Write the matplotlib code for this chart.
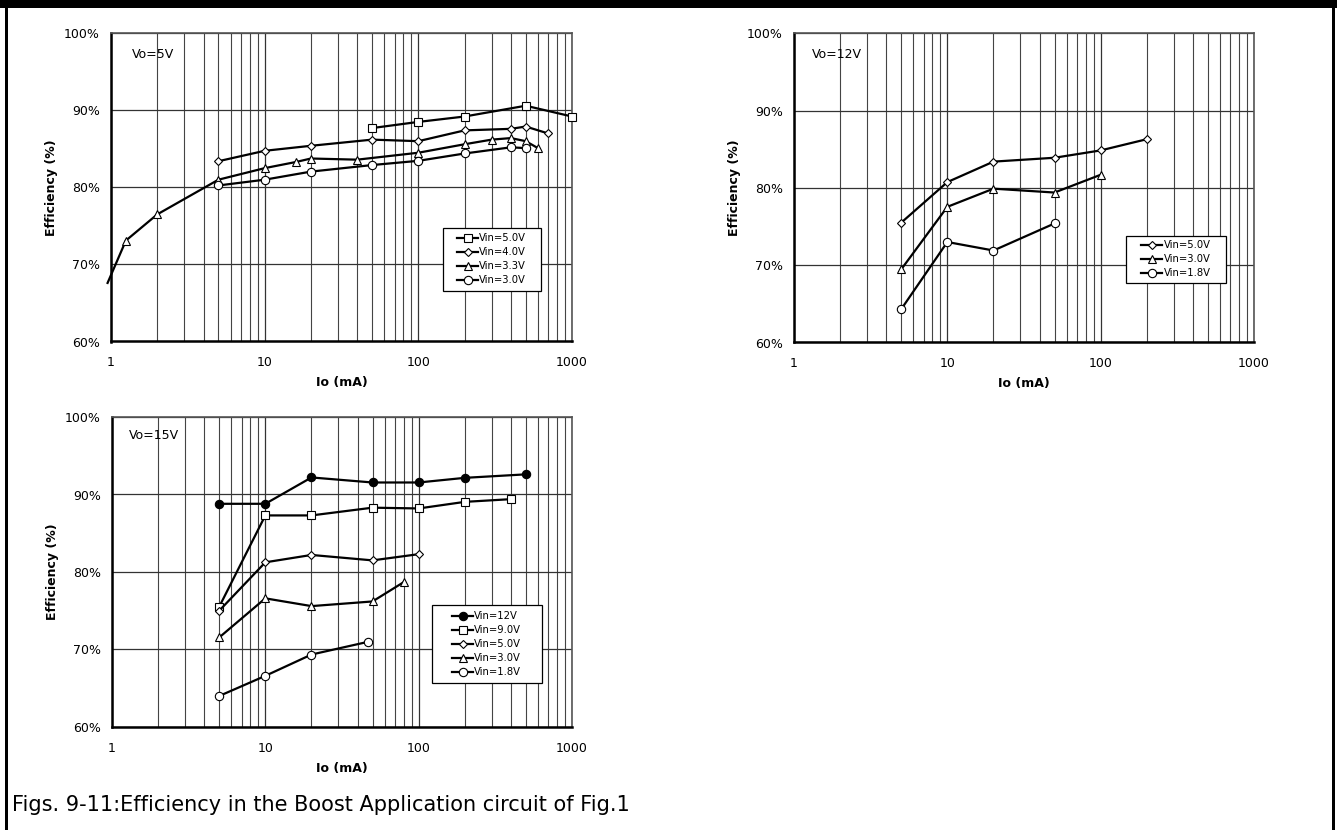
import numpy as np
import matplotlib
matplotlib.use('Agg')
import matplotlib.pyplot as plt
from matplotlib.patches import Rectangle
from matplotlib.ticker import FixedLocator, NullFormatter, PercentFormatter

plt.rcParams['font.family'] = ['DejaVu Sans']

# === 데이터 (Vo=5V) ===
vo5_x_50 = [50, 100, 200, 500, 1000]
vo5_vin50 = [87.7, 88.5, 89.2, 90.6, 89.2]
vo5_x_40 = [5, 10, 20, 50, 100, 200, 400, 500, 700]
vo5_vin40 = [83.4, 84.75, 85.4, 86.2, 86.0, 87.4, 87.6, 87.9, 87.0]
vo5_x_33 = [0.95, 1.25, 2, 5, 10, 16, 20, 40, 100, 200, 300, 400, 500, 600]
vo5_vin33 = [67.6, 73.1, 76.5, 81.0, 82.5, 83.3, 83.75, 83.6, 84.5, 85.6, 86.2, 86.4, 86.0, 85.1]
vo5_x_30 = [5, 10, 20, 50, 100, 200, 400, 500]
vo5_vin30 = [80.25, 81.0, 82.05, 82.9, 83.45, 84.4, 85.2, 85.1]

# === 데이터 (Vo=12V) ===
vo12_x_50 = [5, 10, 20, 50, 100, 200]
vo12_vin50 = [75.5, 80.75, 83.4, 83.9, 84.85, 86.3]
vo12_x_30 = [5, 10, 20, 50, 100]
vo12_vin30 = [69.45, 77.55, 79.9, 79.4, 81.7]
vo12_x_18 = [5, 10, 20, 50]
vo12_vin18 = [64.3, 73.0, 71.9, 75.4]

# === 데이터 (Vo=15V) ===
vo15_x_12 = [5, 10, 20, 50, 100, 200, 500]
vo15_vin12 = [88.8, 88.8, 92.2, 91.55, 91.55, 92.15, 92.6]
vo15_x_90 = [5, 10, 20, 50, 100, 200, 400]
vo15_vin90 = [75.5, 87.3, 87.3, 88.3, 88.2, 89.05, 89.4]
vo15_x_50 = [5, 10, 20, 50, 100]
vo15_vin50 = [75.0, 81.25, 82.2, 81.5, 82.3]
vo15_x_30 = [5, 10, 20, 50, 80]
vo15_vin30 = [71.55, 76.6, 75.6, 76.2, 78.7]
vo15_x_18 = [5, 10, 20, 47]
vo15_vin18 = [64.0, 66.6, 69.35, 71.0]

W, H = 1337, 830
fig = plt.figure(figsize=(W / 100, H / 100), dpi=100)

# 바깥 테두리
fig.add_artist(Rectangle((0, 1 - 8 / H), 1, 8 / H, transform=fig.transFigure, color='black', lw=0))
fig.add_artist(Rectangle((5 / W, 0), 3 / W, 1, transform=fig.transFigure, color='black', lw=0))
fig.add_artist(Rectangle((1332 / W, 0), 3 / W, 1, transform=fig.transFigure, color='black', lw=0))


def px_rect(left, right, top, bottom):
    return [left / W, 1 - bottom / H, (right - left) / W, (bottom - top) / H]


def setup_axes(rect, label, label_pos):
    ax = fig.add_axes(rect)
    ax.set_xscale('log')
    ax.set_xlim(1, 1000)
    ax.set_ylim(60, 100)
    ax.set_yticks([60, 70, 80, 90, 100])
    ax.yaxis.set_major_formatter(PercentFormatter(decimals=0))
    ax.set_xticks([1, 10, 100, 1000])
    ax.set_xticklabels(['1', '10', '100', '1000'])
    ax.xaxis.set_minor_locator(FixedLocator([m * 10 ** d for d in range(3) for m in range(2, 10)]))
    ax.xaxis.set_minor_formatter(NullFormatter())
    ax.tick_params(axis='both', which='both', length=0, labelsize=9)
    ax.tick_params(axis='y', pad=8)
    ax.tick_params(axis='x', pad=10.5)
    ax.grid(True, which='major', color='#333333', lw=0.9)
    ax.grid(True, which='minor', axis='x', color='#444444', lw=0.8)
    for s in ['left', 'bottom']:
        ax.spines[s].set_linewidth(1.8)
        ax.spines[s].set_color('black')
    for s in ['top', 'right']:
        ax.spines[s].set_linewidth(1.2)
        ax.spines[s].set_color('#555555')
    ax.set_xlabel('Io (mA)', fontsize=9, fontweight='bold', labelpad=5)
    ax.set_ylabel('Efficiency (%)', fontsize=9, fontweight='bold', labelpad=4)
    ax.text(label_pos[0], label_pos[1], label, transform=ax.transAxes, fontsize=9,
            va='center', ha='left')
    return ax


def draw(ax, x, y, marker, name, face='white', markevery=None):
    ax.plot(x, y, color='black', lw=1.6, marker=marker, markersize=6 if marker != 'D' else 4.5,
            markerfacecolor=face, markeredgecolor='black', markeredgewidth=0.8,
            label=name, markevery=markevery, clip_on=False, zorder=3)


def legend(ax, x0, x1, y0, y1):
    ax.add_patch(Rectangle((x0, y0), x1 - x0, y1 - y0, transform=ax.transAxes,
                           facecolor='white', edgecolor='black', lw=0.9, zorder=5))
    lg = ax.legend(loc='center', bbox_to_anchor=((x0 + x1) / 2, (y0 + y1) / 2), fontsize=7.2,
                   frameon=False, handlelength=2.1, handletextpad=0.1, borderpad=0,
                   labelspacing=0.4, borderaxespad=0)
    lg.set_zorder(6)


# --- Vo=5V ---
ax1 = setup_axes(px_rect(111, 572, 33.3, 341.5), 'Vo=5V', (0.045, 0.930))
draw(ax1, vo5_x_50, vo5_vin50, 's', 'Vin=5.0V')
draw(ax1, vo5_x_40, vo5_vin40, 'D', 'Vin=4.0V')
draw(ax1, vo5_x_33, vo5_vin33, '^', 'Vin=3.3V', markevery=list(range(1, len(vo5_x_33))))
draw(ax1, vo5_x_30, vo5_vin30, 'o', 'Vin=3.0V')
legend(ax1, 0.720, 0.932, 0.164, 0.3685)

# --- Vo=12V ---
ax2 = setup_axes(px_rect(794, 1254, 33.3, 342.5), 'Vo=12V', (0.040, 0.930))
draw(ax2, vo12_x_50, vo12_vin50, 'D', 'Vin=5.0V')
draw(ax2, vo12_x_30, vo12_vin30, '^', 'Vin=3.0V')
draw(ax2, vo12_x_18, vo12_vin18, 'o', 'Vin=1.8V')
legend(ax2, 0.7217, 0.939, 0.1926, 0.3447)

# --- Vo=15V ---
ax3 = setup_axes(px_rect(112, 572, 417, 727), 'Vo=15V', (0.036, 0.939))
draw(ax3, vo15_x_12, vo15_vin12, 'o', 'Vin=12V', face='black')
draw(ax3, vo15_x_90, vo15_vin90, 's', 'Vin=9.0V')
draw(ax3, vo15_x_50, vo15_vin50, 'D', 'Vin=5.0V')
draw(ax3, vo15_x_30, vo15_vin30, '^', 'Vin=3.0V')
draw(ax3, vo15_x_18, vo15_vin18, 'o', 'Vin=1.8V')
legend(ax3, 0.6957, 0.9337, 0.1419, 0.3935)

fig.text(12 / W, 1 - 805 / H, 'Figs. 9-11:Efficiency in the Boost Application circuit of Fig.1',
         fontsize=15, va='center', ha='left')

fig.savefig('out.png', dpi=100)
